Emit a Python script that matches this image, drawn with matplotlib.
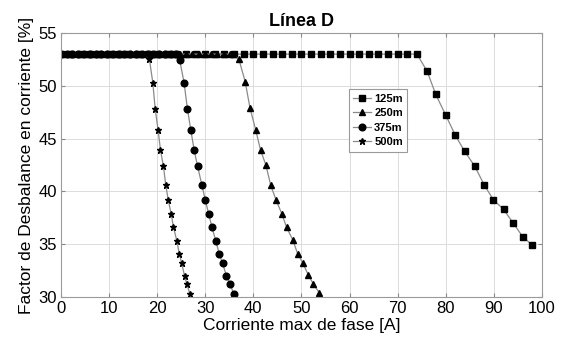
import matplotlib
matplotlib.use('Agg')
import matplotlib.pyplot as plt

plt.rcParams['font.family'] = ['Liberation Sans', 'DejaVu Sans']

# 125m feeder - squares
x_125 = [0, 2, 4, 6, 8, 10, 12, 14, 16, 18, 20, 22, 24, 26, 28, 30, 32, 34, 36, 38,
         40, 42, 44, 46, 48, 50, 52, 54, 56, 58, 60, 62, 64, 66, 68, 70, 72, 74,
         76.1, 77.9, 80.0, 82.0, 83.9, 86.0, 88.0, 89.9, 92.0, 94.0, 96.0, 98.0]
y_125 = [53] * 38 + [51.4, 49.2, 47.2, 45.3, 43.8, 42.4, 40.6, 39.2, 38.3, 37.0, 35.7, 34.9]

# 250m - triangles
x_250 = [0, 1.3, 2.6, 3.9, 5.2, 6.5, 7.8, 9.1, 10.4, 11.7, 13.0, 14.3, 15.6, 16.9,
         18.2, 19.5, 20.8, 22.1, 23.4, 24.7, 26.0, 27.3, 28.6, 29.9, 31.2, 32.5, 33.8, 35.1, 35.8,
         37.0, 38.3, 39.3, 40.5, 41.5, 42.6, 43.6, 44.7, 45.9, 46.9, 48.2, 49.2, 50.3, 51.4, 52.5, 53.7]
y_250 = [53] * 29 + [52.5, 50.4, 47.9, 45.8, 43.9, 42.5, 40.6, 39.2, 37.9, 36.6, 35.4, 34.1,
                     33.2, 32.1, 31.2, 30.4]

# 375m - circles
x_375 = [0, 1.2, 2.4, 3.6, 4.8, 6.0, 7.2, 8.4, 9.6, 10.8, 12.0, 13.2, 14.4, 15.6, 16.8,
         18.0, 19.2, 20.4, 21.6, 22.8, 24.0,
         24.7, 25.6, 26.3, 27.0, 27.7, 28.4, 29.3, 30.0, 30.7, 31.4, 32.2, 32.9, 33.6, 34.4, 35.2, 35.9]
y_375 = [53] * 21 + [52.4, 50.3, 47.8, 45.8, 43.9, 42.4, 40.6, 39.2, 37.9, 36.6, 35.3, 34.1,
                     33.2, 32.0, 31.2, 30.3]

# 500m - stars
x_500 = [0, 0.8, 1.6, 2.4, 3.2, 4.0, 4.8, 5.6, 6.4, 7.2, 8.0, 8.8, 9.6, 10.4, 11.2, 12.0,
         12.8, 13.6, 14.4, 15.2, 16.0, 16.8, 17.6,
         18.4, 19.1, 19.6, 20.2, 20.7, 21.3, 21.8, 22.3, 22.9, 23.4, 24.1, 24.6, 25.1, 25.7, 26.2, 26.8]
y_500 = [53] * 23 + [52.5, 50.3, 47.8, 45.8, 43.9, 42.4, 40.6, 39.2, 37.9, 36.6, 35.3, 34.1,
                     33.2, 32.0, 31.2, 30.3]

fig = plt.figure(figsize=(5.64, 3.51), dpi=100)
ax = fig.add_axes([0.108, 0.154, 0.853, 0.752])

line_kw = dict(color='#8a8a8a', lw=0.9, markerfacecolor='black', markeredgecolor='black')
ax.plot(x_125, y_125, marker='s', ms=3.8, label='125m', **line_kw)
ax.plot(x_250, y_250, marker='^', ms=4.6, label='250m', **line_kw)
ax.plot(x_375, y_375, marker='o', ms=4.8, label='375m', **line_kw)
ax.plot(x_500, y_500, marker='*', ms=4.6, label='500m', **line_kw)

ax.set_xlim(0, 100)
ax.set_ylim(30, 55)
ax.set_xticks(range(0, 101, 10))
ax.set_yticks(range(30, 56, 5))
ax.grid(True, color='#dcdcdc', lw=0.7)
ax.tick_params(direction='in', top=True, right=True, labelsize=12, length=3,
               color='#888888', pad=3)
for sp in ax.spines.values():
    sp.set_color('#9a9a9a')
    sp.set_linewidth(0.8)

ax.set_title('Línea D', fontsize=13, fontweight='bold', pad=5)
ax.set_xlabel('Corriente max de fase [A]', fontsize=12.5, labelpad=1)
ax.set_ylabel('Factor de Desbalance en corriente [%]', fontsize=12.5, labelpad=3)

leg = ax.legend(loc='upper left', bbox_to_anchor=(0.598, 0.786),
                prop={'weight': 'bold', 'size': 8}, handlelength=1.6,
                handletextpad=0.3, borderpad=0.4, labelspacing=0.4,
                borderaxespad=0, fancybox=False, framealpha=1, edgecolor='#9a9a9a')
leg.get_frame().set_linewidth(0.8)

fig.savefig('out.png', dpi=100)
